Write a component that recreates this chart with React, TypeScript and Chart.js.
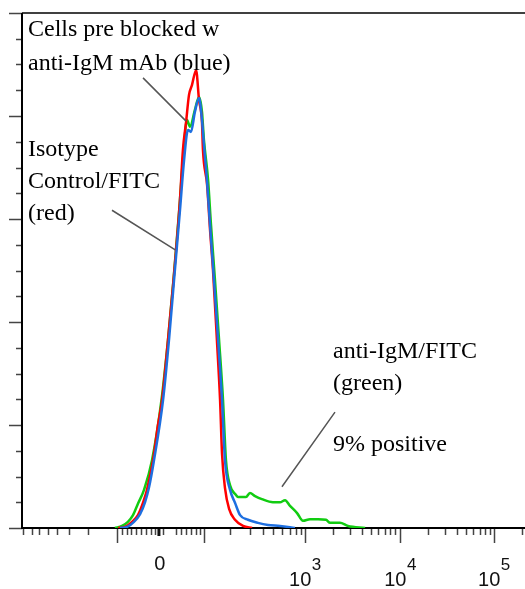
import { useEffect, useRef } from "react";
import { Chart, registerables } from "chart.js";

Chart.register(...registerables);

// X axis: 256 display channels of a biexponential (logicle) FITC axis
const X_MIN = 0;
const X_MAX = 256;
// Y axis: % of max
const Y_MIN = 0;
const Y_MAX = 100;

// Isotype Control/FITC (red)
const redCh = [48.9, 52.4, 56.0, 59.0, 61.6, 63.6, 66.7, 69.2, 71.3, 74.3, 76.9, 80.4, 81.9, 83.5, 85.0, 86.5, 88.6, 90.1, 91.6, 92.1, 94.2, 95.7, 97.2, 99.2, 100.8, 101.8, 103.3, 105.4, 108.4, 112.5, 117.1];
const redPct = [0, 0.2, 1.2, 2.5, 4.9, 7.4, 13.2, 20.0, 24.9, 36.5, 47.2, 63.7, 73.4, 78.8, 84.1, 86.0, 88.9, 83.1, 78.8, 73.4, 66.6, 57.9, 50.1, 36.5, 24.9, 14.5, 7.8, 3.7, 1.6, 0.4, 0];

// Cells pre blocked with anti-IgM mAb (blue)
const blueCh = [49.9, 53.4, 57.0, 60.1, 62.6, 64.6, 67.2, 71.8, 74.8, 77.4, 80.4, 82.5, 84.5, 86.0, 88.0, 90.1, 91.6, 92.6, 94.2, 95.7, 97.7, 99.8, 101.8, 103.3, 105.9, 108.4, 111.0, 115.0, 120.1, 125.2, 131.3, 138.9];
const bluePct = [0, 0.2, 1.2, 2.7, 5.0, 7.8, 13.2, 24.9, 36.5, 48.2, 61.7, 71.5, 77.3, 76.9, 80.8, 83.5, 79.2, 74.4, 67.2, 58.8, 48.2, 36.5, 24.9, 13.2, 7.4, 4.9, 2.5, 1.6, 1.0, 0.6, 0.4, 0];

// anti-IgM/FITC (green)
const greenCh = [47.3, 50.9, 53.9, 56.5, 59.0, 62.1, 66.2, 71.0, 74.3, 77.1, 80.0, 81.9, 84.0, 85.5, 88.0, 90.1, 91.6, 92.6, 94.7, 96.2, 98.2, 100.3, 102.3, 103.8, 105.9, 108.9, 109.9, 114.0, 116.0, 118.6, 122.1, 127.7, 131.3, 133.9, 136.4, 140.0, 143.0, 146.6, 150.7, 154.7, 156.8, 161.8, 165.9, 174.6];
const greenPct = [0, 0.4, 1.2, 2.5, 4.7, 7.4, 13.2, 24.9, 36.5, 48.2, 61.7, 71.5, 79.2, 77.9, 81.2, 83.7, 80.8, 75.3, 67.6, 58.8, 48.2, 36.5, 24.9, 13.2, 8.3, 6.4, 6.0, 6.0, 6.8, 6.2, 5.6, 5.0, 5.0, 5.4, 4.3, 2.9, 1.4, 1.7, 1.7, 1.6, 1.0, 1.0, 0.4, 0];

// Axis ticks (channel units / % of max)
const xZeroTick = 70.2;
const xMajorTicks = [48.4, 92.6, 144.0, 192.4, 240.2];
const xMinorTicks = [
  0.5, 5.1, 8.7, 13.2, 17.8, 23.9, 33.6,
  50.9, 53.4, 55.5, 58.0, 60.6, 63.1, 65.7, 67.7,
  71.8, 78.4, 80.9, 83.5, 86.0, 88.6, 90.6,
  105.9, 116.0, 122.7, 127.7, 132.3, 136.4, 139.5, 142.0,
  158.3, 166.9, 173.0, 177.6, 181.2, 184.8, 187.3, 189.9,
  206.6, 215.3, 221.4, 226.0, 229.5, 233.1, 235.7, 238.2,
  254.5,
];
const xLabelValues = [70.2, 144.0, 192.4, 240.2];
const xLabelBase = ["0", "10", "10", "10"];
const xLabelExp = ["", "3", "4", "5"];
const yMajorTicks = [0, 20, 40, 60, 80, 100];
const yMinorTicks = [5, 10, 15, 25, 30, 35, 45, 50, 55, 65, 70, 75, 85, 90, 95];

// Annotation texts
const noteBlue = ["Cells pre blocked w", "anti-IgM mAb (blue)"];
const noteRed = ["Isotype", "Control/FITC", "(red)"];
const noteGreen = ["anti-IgM/FITC", "(green)"];
const notePositive = "9% positive";

// Annotation anchors in axis units
const NOTE_LAYOUT = {
  blue: { x: 3.05, y: [95.5, 88.9] },
  red: { x: 3.05, y: [72.2, 66.0, 59.8] },
  green: { x: 158.3, y: [33.0, 26.8] },
  positive: { x: 158.3, y: 15.0 },
};
const POINTERS = [
  [61.6, 87.4, 83.5, 79.0],
  [45.8, 61.7, 78.0, 54.0],
  [132.3, 8.0, 159.3, 22.5],
];

const toPoints = (xs: number[], ys: number[]) => xs.map((x, i) => ({ x, y: ys[i] }));

const LABEL_FONT = '20px "Liberation Sans", Arial, sans-serif';
const EXP_FONT = '17px "Liberation Sans", Arial, sans-serif';

const flowPlugin = {
  id: "flowDecor",
  beforeDatasetsDraw(chart: any) {
    const { ctx, chartArea } = chart;
    const xs = chart.scales.x;
    const ys = chart.scales.y;
    const { left, right, top, bottom } = chartArea;
    ctx.save();
    ctx.strokeStyle = "#444";
    ctx.lineWidth = 1.5;
    ctx.beginPath();
    yMajorTicks.forEach((v) => {
      const py = Math.round(ys.getPixelForValue(v)) + 0.5;
      ctx.moveTo(left - 13, py);
      ctx.lineTo(left, py);
    });
    yMinorTicks.forEach((v) => {
      const py = Math.round(ys.getPixelForValue(v)) + 0.5;
      ctx.moveTo(left - 6, py);
      ctx.lineTo(left, py);
    });
    xMajorTicks.forEach((v) => {
      const px = Math.round(xs.getPixelForValue(v)) + 0.5;
      ctx.moveTo(px, bottom);
      ctx.lineTo(px, bottom + 15);
    });
    xMinorTicks.forEach((v) => {
      const px = Math.round(xs.getPixelForValue(v)) + 0.5;
      ctx.moveTo(px, bottom);
      ctx.lineTo(px, bottom + 7);
    });
    ctx.stroke();
    ctx.strokeStyle = "#111";
    ctx.lineWidth = 3;
    ctx.beginPath();
    const pz = xs.getPixelForValue(xZeroTick);
    ctx.moveTo(pz - 1, bottom);
    ctx.lineTo(pz - 1, bottom + 8);
    ctx.stroke();
    ctx.strokeStyle = "#000";
    ctx.lineWidth = 1.5;
    ctx.beginPath();
    ctx.moveTo(left, top);
    ctx.lineTo(right, top);
    ctx.stroke();
    ctx.lineWidth = 2;
    ctx.beginPath();
    ctx.moveTo(left, top);
    ctx.lineTo(left, bottom);
    ctx.lineTo(right, bottom);
    ctx.stroke();
    ctx.restore();
  },
  afterDraw(chart: any) {
    const { ctx, chartArea } = chart;
    const xs = chart.scales.x;
    const ys = chart.scales.y;
    const { bottom } = chartArea;
    ctx.save();
    ctx.fillStyle = "#111";
    ctx.textBaseline = "alphabetic";
    ctx.textAlign = "left";
    xLabelValues.forEach((v, i) => {
      const cx = xs.getPixelForValue(v);
      const base = xLabelBase[i];
      const exp = xLabelExp[i];
      ctx.font = LABEL_FONT;
      const wb = ctx.measureText(base).width;
      ctx.font = EXP_FONT;
      const we = exp ? ctx.measureText(exp).width : 0;
      const x0 = cx - (wb + we) / 2;
      ctx.font = LABEL_FONT;
      if (!exp) {
        ctx.fillText(base, x0, bottom + 42);
      } else {
        ctx.fillText(base, x0, bottom + 58);
        ctx.font = EXP_FONT;
        ctx.fillText(exp, x0 + wb + 0.5, bottom + 42);
      }
    });
    ctx.strokeStyle = "#555";
    ctx.lineWidth = 1.5;
    ctx.beginPath();
    POINTERS.forEach(([x1, y1, x2, y2]) => {
      ctx.moveTo(xs.getPixelForValue(x1), ys.getPixelForValue(y1));
      ctx.lineTo(xs.getPixelForValue(x2), ys.getPixelForValue(y2));
    });
    ctx.stroke();
    ctx.fillStyle = "#000";
    ctx.font = '24px "Liberation Serif", "Times New Roman", serif';
    const drawBlock = (lines: string[], lay: { x: number; y: number[] }) => {
      lines.forEach((t, i) => ctx.fillText(t, xs.getPixelForValue(lay.x), ys.getPixelForValue(lay.y[i])));
    };
    drawBlock(noteBlue, NOTE_LAYOUT.blue);
    drawBlock(noteRed, NOTE_LAYOUT.red);
    drawBlock(noteGreen, NOTE_LAYOUT.green);
    ctx.fillText(notePositive, xs.getPixelForValue(NOTE_LAYOUT.positive.x), ys.getPixelForValue(NOTE_LAYOUT.positive.y));
    ctx.restore();
  },
};

export default function App() {
  const canvasRef = useRef<HTMLCanvasElement | null>(null);

  useEffect(() => {
    if (!canvasRef.current) return;
    const common = { borderWidth: 2.5, pointRadius: 0, cubicInterpolationMode: "monotone" as const, fill: false };
    const chart = new Chart(canvasRef.current, {
      type: "line",
      data: {
        datasets: [
          { label: "Cells pre blocked w anti-IgM mAb", data: toPoints(blueCh, bluePct), borderColor: "#1e6fe0", ...common },
          { label: "Isotype Control/FITC", data: toPoints(redCh, redPct), borderColor: "#ff0000", ...common },
          { label: "anti-IgM/FITC", data: toPoints(greenCh, greenPct), borderColor: "#11cc11", ...common },
        ],
      },
      options: {
        responsive: false,
        maintainAspectRatio: false,
        animation: false,
        layout: { padding: { left: 22, top: 13, right: 0, bottom: 61 } },
        plugins: { legend: { display: false }, tooltip: { enabled: false } },
        scales: {
          x: { type: "linear", min: X_MIN, max: X_MAX, display: false },
          y: { type: "linear", min: Y_MIN, max: Y_MAX, display: false },
        },
      },
      plugins: [flowPlugin],
    });
    return () => chart.destroy();
  }, []);

  return (
    <div style={{ position: "fixed", left: 0, top: 0, width: 525, height: 589, background: "#fff" }}>
      <canvas ref={canvasRef} width={525} height={589} style={{ width: 525, height: 589, display: "block" }} />
    </div>
  );
}
